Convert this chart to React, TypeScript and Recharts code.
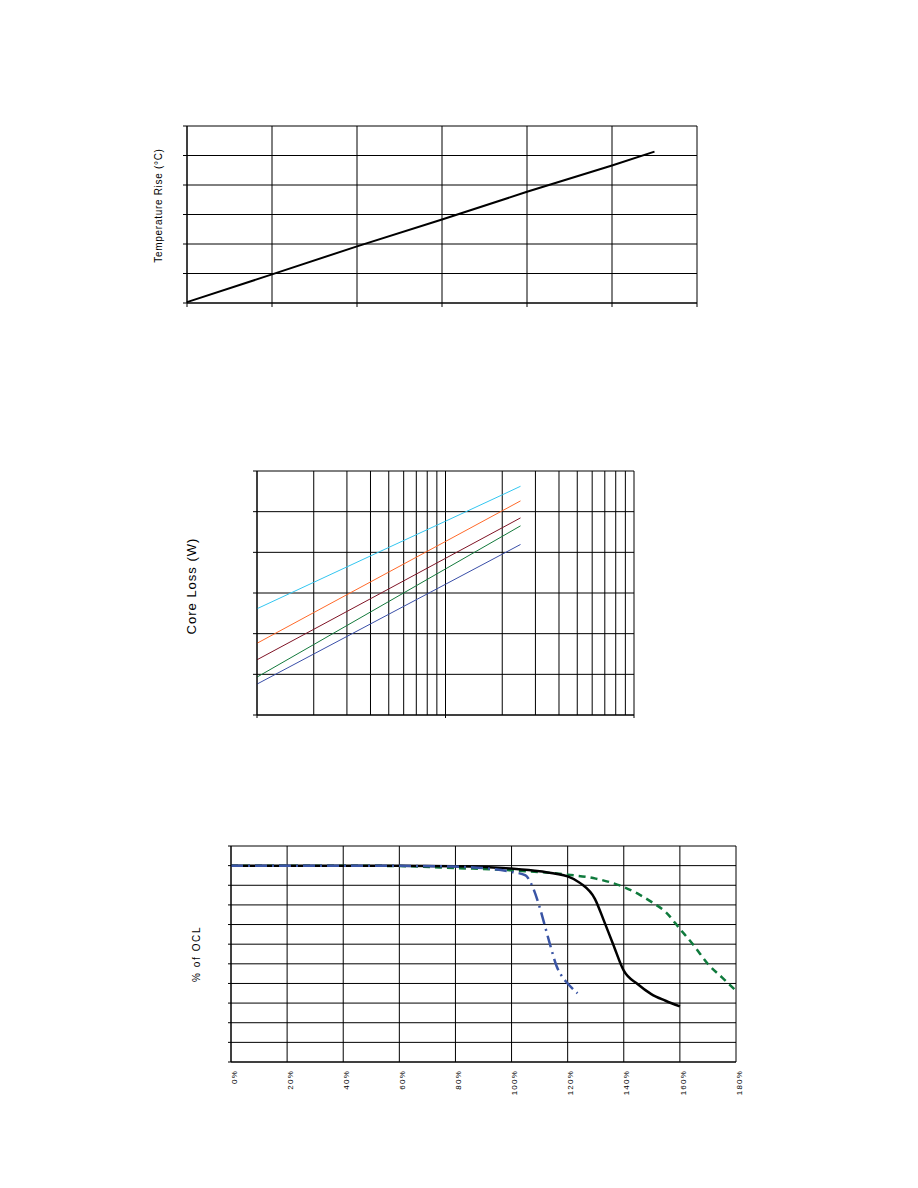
import {
  LineChart, Line, XAxis, YAxis, CartesianGrid, ReferenceLine,
} from 'recharts';

// Temperature rise chart (no tick labels in the original)
const tempX = [0, 1, 2, 3, 4, 5, 5.5];
const tempRise = [0.03, 0.97, 1.92, 2.83, 3.77, 4.66, 5.13];
const tempTicksX = [0, 1, 2, 3, 4, 5, 6];
const tempTicksY = [0, 1, 2, 3, 4, 5, 6];

// Core loss vs frequency, log-log
const freq = [10, 20, 50, 100, 200, 250];
const lossCyan = [0.41, 1.83, 13.2, 58.3, 259, 421];
const lossOrange = [0.058, 0.33, 3.27, 18.5, 105, 184];
const lossMaroon = [0.0228, 0.128, 1.26, 7.13, 40.2, 70.3];
const lossGreen = [0.00855, 0.054, 0.618, 3.91, 24.7, 44.8];
const lossBlue = [0.00575, 0.0316, 0.3, 1.64, 9.0, 15.6];
const freqTicks = [10, 100, 1000];
const freqMinorGrid = [20, 30, 40, 50, 60, 70, 80, 90, 200, 300, 400, 500, 600, 700, 800, 900];
const lossTicks = [0.001, 0.01, 0.1, 1, 10, 100, 1000];

// % of OCL vs DC bias
const solidX = [0, 20, 40, 60, 80, 100, 110, 120, 124.5, 129.7, 132.9, 136.2, 140, 144.9, 149.8, 154.9, 160];
const solidY = [100, 100, 100, 99.9, 99.7, 98.5, 97.1, 94.5, 91.1, 83.1, 72, 60, 46.5, 39.7, 34.6, 31.2, 28.3];
const dashDotX = [0, 20, 40, 60, 80, 100, 105, 107, 110, 112, 114, 116, 118, 120, 123.5];
const dashDotY = [100, 100, 100, 99.9, 99.5, 96.8, 95, 90.8, 78.9, 68.7, 58.4, 49, 43.5, 40, 35];
const dashX = [0, 20, 40, 60, 80, 100, 120, 130, 140, 145, 150, 155, 160, 165, 170, 175, 180];
const dashY = [100, 100, 100, 99.8, 98.8, 97.6, 95.4, 93.4, 89.1, 85.7, 81.4, 76.3, 67.8, 59.3, 49.9, 43.1, 36.3];
const oclTicksX = [0, 20, 40, 60, 80, 100, 120, 140, 160, 180];
const oclTicksY = [0, 10, 20, 30, 40, 50, 60, 70, 80, 90, 100, 110];

const FONT = '"Liberation Sans", Arial, sans-serif';

const zip = (xs: number[], ys: number[]) => xs.map((x, i) => ({ x, y: ys[i] }));

const tempData = zip(tempX, tempRise);
const lossData = freq.map((f, i) => ({
  f,
  cyan: lossCyan[i],
  orange: lossOrange[i],
  maroon: lossMaroon[i],
  green: lossGreen[i],
  blue: lossBlue[i],
}));

const blank = () => '';

export default function App() {
  return (
    <div style={{ position: 'absolute', left: 0, top: 0, width: 918, height: 1188, background: '#fff', fontFamily: FONT }}>
      <div style={{ position: 'absolute', left: 0, top: 100 }}>
        <LineChart width={918} height={230} margin={{ top: 26, right: 221, bottom: 7, left: 129 }}>
          <CartesianGrid stroke="#000" strokeWidth={1} />
          <XAxis dataKey="x" type="number" domain={[0, 6]} ticks={tempTicksX} height={20}
            tickSize={4} tickFormatter={blank} stroke="#000" interval={0} />
          <YAxis type="number" domain={[0, 6]} ticks={tempTicksY} width={58} tickSize={4}
            tickFormatter={blank} stroke="#000" interval={0}
            label={{ value: 'Temperature Rise (°C)', angle: -90, position: 'center', dy: -9, fontSize: 10, letterSpacing: 0.7, fill: '#000', fontFamily: FONT }} />
          <Line data={tempData} dataKey="y" type="linear" stroke="#000" strokeWidth={2} dot={false} isAnimationActive={false} />
        </LineChart>
      </div>

      <div style={{ position: 'absolute', left: 0, top: 450 }}>
        <LineChart width={918} height={290} data={lossData} margin={{ top: 21, right: 284, bottom: 5, left: 125 }}>
          <CartesianGrid stroke="#000" strokeWidth={1} />
          {freqMinorGrid.map((v) => (
            <ReferenceLine key={v} x={v} stroke="#000" strokeWidth={1} />
          ))}
          <XAxis dataKey="f" type="number" scale="log" domain={[10, 1000]} ticks={freqTicks} height={20}
            tickSize={3} tickFormatter={blank} stroke="#000" interval={0} allowDataOverflow />
          <YAxis type="number" scale="log" domain={[0.001, 1000]} ticks={lossTicks} width={132} tickSize={4}
            tickFormatter={blank} stroke="#000" interval={0} allowDataOverflow
            label={{ value: 'Core Loss (W)', angle: -90, position: 'center', dy: -7, fontSize: 13, letterSpacing: 1, fill: '#000', fontFamily: FONT }} />
          <Line dataKey="cyan" type="linear" stroke="#33c6f0" strokeWidth={1} dot={false} isAnimationActive={false} />
          <Line dataKey="orange" type="linear" stroke="#ff6a2a" strokeWidth={1} dot={false} isAnimationActive={false} />
          <Line dataKey="maroon" type="linear" stroke="#7f1426" strokeWidth={1} dot={false} isAnimationActive={false} />
          <Line dataKey="green" type="linear" stroke="#137a3c" strokeWidth={1} dot={false} isAnimationActive={false} />
          <Line dataKey="blue" type="linear" stroke="#3a4fa8" strokeWidth={1} dot={false} isAnimationActive={false} />
        </LineChart>
      </div>

      <div style={{ position: 'absolute', left: 0, top: 830 }}>
        <LineChart width={918} height={300} margin={{ top: 16, right: 182, bottom: 28, left: 161 }}>
          <CartesianGrid stroke="#000" strokeWidth={1} />
          <XAxis dataKey="x" type="number" domain={[0, 180]} ticks={oclTicksX} height={40} interval={0}
            tickLine={false} tickMargin={2} stroke="#000"
            tickFormatter={(v: number) => `${v}%`}
            tick={{ angle: -90, textAnchor: 'end', verticalAnchor: 'middle', fontSize: 8, letterSpacing: 1.2, fill: '#000', fontFamily: FONT }} />
          <YAxis type="number" domain={[0, 110]} ticks={oclTicksY} width={70} tickSize={3}
            tickFormatter={blank} stroke="#000" interval={0}
            label={{ value: '% of OCL', angle: -90, position: 'center', fontSize: 10, letterSpacing: 1.6, fill: '#000', fontFamily: FONT }} />
          <Line data={zip(dashX, dashY)} dataKey="y" type="monotone" stroke="#0f7a3c" strokeWidth={2.5}
            strokeDasharray="7 5" dot={false} isAnimationActive={false} />
          <Line data={zip(solidX, solidY)} dataKey="y" type="monotone" stroke="#000" strokeWidth={2.5}
            dot={false} isAnimationActive={false} />
          <Line data={zip(dashDotX, dashDotY)} dataKey="y" type="monotone" stroke="#3a55a5" strokeWidth={2.5}
            strokeDasharray="12 5 2 5" dot={false} isAnimationActive={false} />
        </LineChart>
      </div>
    </div>
  );
}
